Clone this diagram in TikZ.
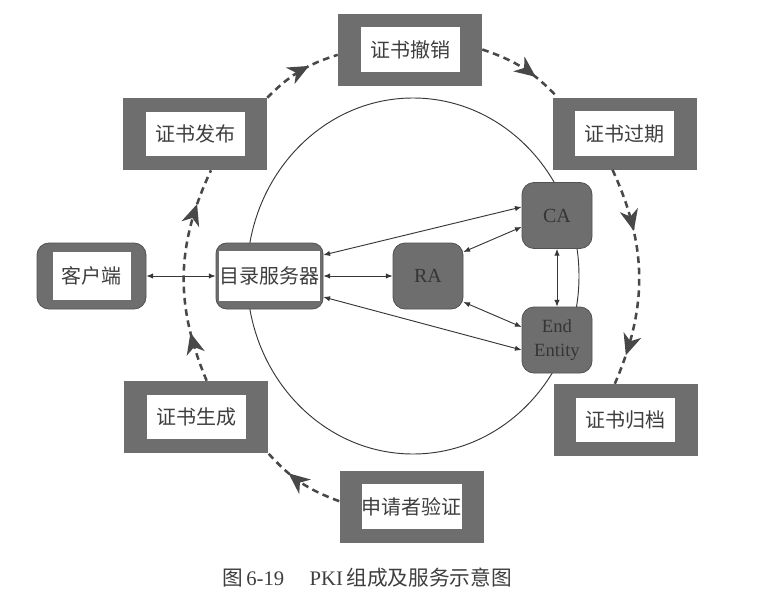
\documentclass[tikz,border=0pt]{standalone}
\usepackage{fontspec}
\setmainfont{Liberation Serif}
\newfontfamily\cjk{Noto Sans CJK SC}
\usetikzlibrary{arrows.meta,decorations.markings}
\definecolor{boxgray}{RGB}{110,110,110}
\definecolor{txtgray}{RGB}{62,62,62}
\definecolor{linegray}{RGB}{55,55,55}
\definecolor{dashgray}{RGB}{72,72,72}
\newcommand\cyctip{\fill[dashgray, solid] (2pt,0pt) -- (-14pt,7pt) -- (-9pt,0pt) -- (-14pt,-7pt) -- cycle;}
\begin{document}
\begin{tikzpicture}[x=0.75pt,y=-0.75pt,
  outerbox/.style={fill=boxgray, draw=none, minimum width=108pt, minimum height=54pt, inner sep=0pt},
  innerbox/.style={fill=white, minimum width=74.25pt, minimum height=33.5pt, inner sep=0pt, font=\cjk\fontsize{15}{18}\selectfont, text=txtgray},
  roundbox/.style={fill=boxgray, draw=boxgray!75!black, line width=0.6pt, rounded corners=9pt, minimum width=52.5pt, minimum height=49.5pt, inner sep=0pt, text=txtgray!85!black, font=\fontsize{15}{18}\selectfont, align=center},
  conn/.style={draw=linegray, line width=0.7pt, {Latex[length=5pt,width=4pt]}-{Latex[length=5pt,width=4pt]}},
  cyc/.style={draw=dashgray, line width=1.9pt, dash pattern=on 5pt off 3.5pt},
  tipone/.style={postaction={decorate}, decoration={markings, mark=at position #1 with {\cyctip}}},
]
\useasboundingbox (0,0) rectangle (765,603);
\fill[white] (0,0) rectangle (765,603);

% big ellipse
\draw[linegray, line width=0.7pt] (413,276) ellipse [x radius=124.5pt, y radius=133.5pt];

% outer ring boxes
\node[outerbox] (chexiao) at (410,49.5) {};
\node[innerbox] (chexiao-t) at (chexiao) {证书撤销};
\node[outerbox] (fabu) at (195,134) {};
\node[innerbox] (fabu-t) at (fabu) {证书发布};
\node[outerbox] (guoqi) at (624.5,133.5) {};
\node[innerbox] (guoqi-t) at (guoqi) {证书过期};
\node[outerbox] (guidang) at (625.5,420) {};
\node[innerbox] (guidang-t) at (guidang) {证书归档};
\node[outerbox] (shengcheng) at (196,417) {};
\node[innerbox] (shengcheng-t) at (shengcheng) {证书生成};
\node[outerbox] (shenqing) at (411.5,506.5) {};
\node[innerbox] (shenqing-t) at (shenqing) {申请者验证};

% client and directory
\node[fill=boxgray, draw=boxgray!75!black, line width=0.6pt, rounded corners=9pt, minimum width=81.75pt, minimum height=49.5pt] (kehu) at (91.5,276) {};
\node[innerbox, minimum width=58.5pt, minimum height=36pt] (kehu-t) at (kehu) {客户端};
\node[fill=boxgray, draw=boxgray!75!black, line width=0.6pt, rounded corners=8pt, minimum width=80.25pt, minimum height=49.5pt] (ml) at (269.5,276) {};
\node[innerbox, minimum width=75.75pt, minimum height=38pt] (ml-t) at (ml) {目录服务器};

% RA, CA, End Entity
\node[roundbox] (ra) at (428,276) {RA};
\node[roundbox] (ca) at (557,215.5) {CA};
\node[roundbox, font=\fontsize{14}{18}\selectfont] (ee) at (557,340) {End\\Entity};

% solid connectors
\draw[conn] (kehu.east) -- (ml.west);
\draw[conn] (ml.east) -- (ra.west);
\draw[conn] ([yshift=15.75pt]ml.east) -- ([yshift=6.4pt]ca.west);
\draw[conn] ([yshift=-15.75pt]ml.east) -- ([yshift=-7.5pt]ee.west);
\draw[conn] ([yshift=18pt]ra.east) -- ([yshift=-8.6pt]ca.west);
\draw[conn] ([yshift=-19.5pt]ra.east) -- ([yshift=9.75pt]ee.west);
\draw[conn] (ca.south) -- (ee.north);

% dashed lifecycle
\draw[cyc, tipone=0.6] (fabu.north east) to[bend left=14] ([yshift=-4pt]chexiao.west);
\draw[cyc, tipone=0.64] (chexiao.east) to[bend left=14] ([xshift=4pt]guoqi.north west);
\draw[cyc, postaction={decorate}, decoration={markings, mark=at position 0.28 with {\cyctip}, mark=at position 0.85 with {\cyctip}}]
  ([xshift=-9pt]guoqi.south) to[bend left=24] ([xshift=-8pt]guidang.north);
\draw[cyc, tipone=0.64] ([yshift=4pt]shenqing.west) to[bend left=14] (shengcheng.south east);
\draw[cyc, postaction={decorate}, decoration={markings, mark=at position 0.22 with {\cyctip}, mark=at position 0.82 with {\cyctip}}]
  ([xshift=8pt]shengcheng.north) to[bend left=24] ([xshift=12pt]fabu.south);

% caption
\node[text=txtgray, font=\fontsize{15.5}{18}\selectfont, inner sep=0pt] (cap) at (367,578) {{\cjk 图}\,6-19\hspace{19pt}PKI\,{\cjk 组成及服务示意图}};
\end{tikzpicture}
\end{document}
